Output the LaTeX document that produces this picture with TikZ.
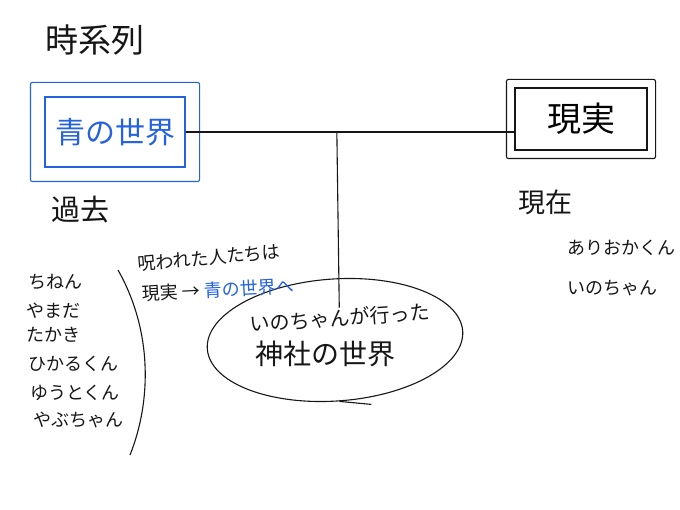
\documentclass[tikz,border=0pt]{standalone}
\usepackage{fontspec}
\setmainfont{Noto Sans CJK JP}
\usetikzlibrary{positioning,fit,shapes.geometric,calc}
\definecolor{pen}{HTML}{161616}
\definecolor{bluepen}{HTML}{2462E0}
\tikzset{
  hand/.style={line width=1.1pt,draw=pen},
  world/.style={hand,minimum width=140pt,minimum height=70pt,inner sep=2pt,
                font=\fontsize{30}{32}\selectfont},
  frame/.style={hand,inner sep=10pt,rounded corners=2pt},
  big/.style={font=\fontsize{29}{31}\selectfont,text=pen,inner sep=1pt},
  note/.style={font=\fontsize{18}{20}\selectfont,text=pen,inner sep=1pt}
}
\begin{document}
\begin{tikzpicture}[x=1pt,y=-1pt]
\useasboundingbox (0,0) rectangle (680,510);
\node[big,font=\fontsize{33}{35}\selectfont] (title) at (95,40) {時系列};
% the two worlds
\node[world,draw=bluepen,text=bluepen] (ao) at (115,132) {青の世界};
\node[frame,draw=bluepen,inner sep=14pt,fit=(ao)] (aoframe) {};
\node[world,minimum width=132pt,minimum height=62pt,font=\fontsize{34}{36}\selectfont] (gj) at (581,119) {現実};
\node[frame,inner sep=8pt,fit=(gj)] (gjframe) {};
\node[big] (kako) at (80,210) {過去};
\node[big,font=\fontsize{27}{29}\selectfont] (genzai) at (545,202) {現在};
% time line
\draw[hand] (ao.east) -- (ao.east -| gj.west);
\coordinate (junction) at ($(ao.east)!0.46!(ao.east -| gj.west)$);
% shrine world
\node[hand,draw,ellipse,minimum width=256pt,minimum height=122pt,rotate=4] (shrine) at (335,340) {};
\node[note,font=\fontsize{20}{22}\selectfont,rotate=4] (inochan) at (340,318) {いのちゃんが行った};
\node[big,font=\fontsize{28}{30}\selectfont] (jinja) at (325,354) {神社の世界};
\draw[hand] (junction) -- (inochan.north);
\draw[hand] (shrine.south) -- ++(32,3);
% past members
\node[note,anchor=west] (chinen) at (27,282) {ちねん};
\node[note,anchor=west] (yamada) at (25,311) {やまだ};
\node[note,anchor=west] (takaki) at (25,335) {たかき};
\node[note,anchor=west] (hikaru) at (27,364) {ひかるくん};
\node[note,anchor=west] (yuto) at (29,393) {ゆうとくん};
\node[note,anchor=west] (yabu) at (32,420) {やぶちゃん};
\draw[hand] (118,270) .. controls (152,330) and (152,400) .. (130,455);
\node[note,rotate=5] (noroi) at (209,258) {呪われた人たちは};
\node[note,rotate=3,anchor=west] (move) at (141,294) {現実 → \textcolor{bluepen}{青の世界へ}};
% present members
\node[note,anchor=west] (arioka) at (566,248) {ありおかくん};
\node[note,anchor=west] (ino) at (566,288) {いのちゃん};
\end{tikzpicture}
\end{document}
